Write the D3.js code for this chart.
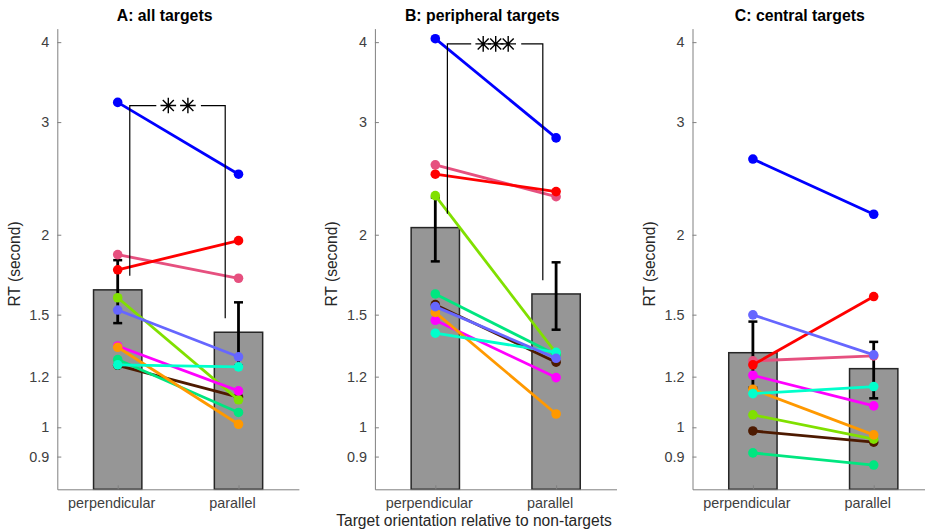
<!DOCTYPE html>
<meta charset="utf-8">
<style>
  body { margin: 0; background: #fff; }
  text { font-family: "Liberation Sans", Arial, sans-serif; }
</style>
<script src="https://d3js.org/d3.v7.min.js"></script>
<div id="chart"></div>
<script>
// conditions on the x axis
var conditions = ["perpendicular", "parallel"];
var panelTitles = ["A: all targets", "B: peripheral targets", "C: central targets"];
var yTicks = [0.9, 1, 1.2, 1.5, 2, 3, 4];

// one colour per subject (draw order)
var subjectColors = ["#0000ff", "#e6507f", "#ff0000", "#4d1a00", "#80e000",
                     "#00e680", "#ff00ff", "#ff9900", "#00ffcc", "#6666ff"];

// RT per subject (seconds), same order as colours
var allPerp = [3.22, 1.862, 1.763, 1.25, 1.594, 1.276, 1.340, 1.334, 1.252, 1.525];
var allPara = [2.487, 1.710, 1.958, 1.115, 1.104, 1.055, 1.140, 1.011, 1.243, 1.289];
var periPerp = [4.05, 2.572, 2.487, 1.555, 2.302, 1.616, 1.470, 1.512, 1.403, 1.544];
var periPara = [2.834, 2.294, 2.336, 1.264, 1.306, 1.298, 1.196, 1.049, 1.310, 1.282];
var centPerp = [2.626, 1.270, 1.252, 0.987, 1.046, 0.912, 1.206, 1.147, 1.129, 1.499];
var centPara = [2.153, 1.293, 1.601, 0.948, 0.958, 0.873, 1.080, 0.973, 1.158, 1.298];

// group means and error bars
var barMeans = [[1.640, 1.408], [2.052, 1.616], [1.308, 1.235]];
var barErrs = [[0.185, 0.160], [0.235, 0.195], [0.155, 0.125]];

// significance brackets: stars, top level, leg ends
var sigStars = [2, 3, 0];
var sigTop = [3.184, 3.975, null];
var sigLegs = [[1.725, 1.481], [2.156, 1.697], null];

var panels = [
  [allPerp, allPara],
  [periPerp, periPara],
  [centPerp, centPara]
];

var width = 925, height = 531;
var axisLeft0 = 57.3, panelStep = 317.6, axisW = 241.6;
var plotBottom = 489.3, plotTop = 28.6;
var axisColor = "#808080", labelColor = "#404040";

var svg = d3.select("#chart").append("svg")
  .attr("width", width)
  .attr("height", height)
  .style("display", "block");

svg.append("rect").attr("width", width).attr("height", height).attr("fill", "#fff");

var y = d3.scaleLog().domain([0.8, 4.2]).range([plotBottom, plotTop]);
var x = d3.scaleLinear().domain([0.5, 2.5]).range([0, axisW]);

panels.forEach(function (p, i) {
  var g = svg.append("g")
    .attr("transform", "translate(" + (axisLeft0 + i * panelStep) + ",0)");

  // bars
  g.selectAll(".bar")
    .data(barMeans[i])
    .enter()
    .append("rect")
    .attr("x", function (d, j) { return x(j + 1 - 0.2); })
    .attr("width", x(1.2) - x(0.8))
    .attr("y", function (d) { return y(d); })
    .attr("height", function (d) { return y(0.8) - y(d); })
    .attr("fill", "#969696")
    .attr("stroke", "#262626")
    .attr("stroke-width", 1.5);

  // axes
  var yAxis = d3.axisLeft(y)
    .tickValues(yTicks)
    .tickFormat(function (d) { return d; })
    .tickSizeInner(-4)
    .tickSizeOuter(0)
    .tickPadding(8);
  var ya = g.append("g").call(yAxis);

  var xAxis = d3.axisBottom(x)
    .tickValues([1, 2])
    .tickFormat(function (d) { return conditions[d - 1]; })
    .tickSizeInner(-4)
    .tickSizeOuter(0)
    .tickPadding(8.5);
  var xa = g.append("g")
    .attr("transform", "translate(0," + plotBottom + ")")
    .call(xAxis);
  xa.selectAll("text").attr("dx", -6.5);

  [ya, xa].forEach(function (a) {
    a.select(".domain").attr("stroke", axisColor);
    a.selectAll(".tick line").attr("stroke", axisColor);
    a.selectAll("text")
      .attr("fill", labelColor)
      .style("font-size", "14.4px")
      .style("font-family", "'Liberation Sans', Arial, sans-serif");
  });

  // error bars
  var eb = g.selectAll(".err")
    .data(barMeans[i])
    .enter()
    .append("g");
  eb.append("line")
    .attr("x1", function (d, j) { return x(j + 1); })
    .attr("x2", function (d, j) { return x(j + 1); })
    .attr("y1", function (d, j) { return y(d - barErrs[i][j]); })
    .attr("y2", function (d, j) { return y(d + barErrs[i][j]); })
    .attr("stroke", "black")
    .attr("stroke-width", 2.8);
  [-1, 1].forEach(function (sgn) {
    eb.append("line")
      .attr("x1", function (d, j) { return x(j + 1) - 4.5; })
      .attr("x2", function (d, j) { return x(j + 1) + 4.5; })
      .attr("y1", function (d, j) { return y(d + sgn * barErrs[i][j]); })
      .attr("y2", function (d, j) { return y(d + sgn * barErrs[i][j]); })
      .attr("stroke", "black")
      .attr("stroke-width", 2.5);
  });

  // subject lines
  var subj = d3.range(subjectColors.length).map(function (s) {
    return { c: subjectColors[s], a: p[0][s], b: p[1][s] };
  });
  var sg = g.selectAll(".subj")
    .data(subj)
    .enter()
    .append("g");
  sg.append("line")
    .attr("x1", x(1))
    .attr("x2", x(2))
    .attr("y1", function (d) { return y(d.a); })
    .attr("y2", function (d) { return y(d.b); })
    .attr("stroke", function (d) { return d.c; })
    .attr("stroke-width", 2.8);
  sg.append("circle")
    .attr("cx", x(1))
    .attr("cy", function (d) { return y(d.a); })
    .attr("r", 4.8)
    .attr("fill", function (d) { return d.c; });
  sg.append("circle")
    .attr("cx", x(2))
    .attr("cy", function (d) { return y(d.b); })
    .attr("r", 4.8)
    .attr("fill", function (d) { return d.c; });

  // significance bracket
  if (sigStars[i] > 0) {
    var yt = y(sigTop[i]);
    var xl = x(1.1), xr = x(1.89);
    var mid = (x(1) + x(2)) / 2;
    var n = sigStars[i];
    var sp = n === 2 ? 19.6 : 12.5;
    var half = (n - 1) * sp / 2 + 12;
    var br = g.append("g").attr("stroke", "black").attr("stroke-width", 1.2).attr("fill", "none");
    br.append("path")
      .attr("d", "M" + xl + "," + y(sigLegs[i][0]) + "V" + yt + "H" + (mid - half));
    br.append("path")
      .attr("d", "M" + (mid + half + 1) + "," + yt + "H" + xr + "V" + y(sigLegs[i][1]));
    d3.range(n).forEach(function (k) {
      var cx = mid + (k - (n - 1) / 2) * sp;
      var r = 7.8;
      var d = "";
      [0, 45, 90, 135].forEach(function (a) {
        var rad = a * Math.PI / 180;
        d += "M" + (cx - r * Math.cos(rad)) + "," + (yt - r * Math.sin(rad)) +
             "L" + (cx + r * Math.cos(rad)) + "," + (yt + r * Math.sin(rad));
      });
      br.append("path").attr("d", d).attr("stroke-width", 1.4);
    });
  }

  // title
  g.append("text")
    .attr("x", axisW / 2 - 13.5)
    .attr("y", 20.7)
    .attr("text-anchor", "middle")
    .style("font-size", "15.8px")
    .style("font-weight", "bold")
    .attr("fill", "black")
    .text(panelTitles[i]);

  // y label
  g.append("text")
    .attr("transform", "translate(-37.5,264) rotate(-90)")
    .attr("text-anchor", "middle")
    .style("font-size", "15.6px")
    .attr("fill", "#262626")
    .text("RT (second)");
});

// x label under middle panel
svg.append("text")
  .attr("x", 474)
  .attr("y", 525.6)
  .attr("text-anchor", "middle")
  .style("font-size", "15.6px")
  .attr("fill", "#262626")
  .text("Target orientation relative to non-targets");
</script>
